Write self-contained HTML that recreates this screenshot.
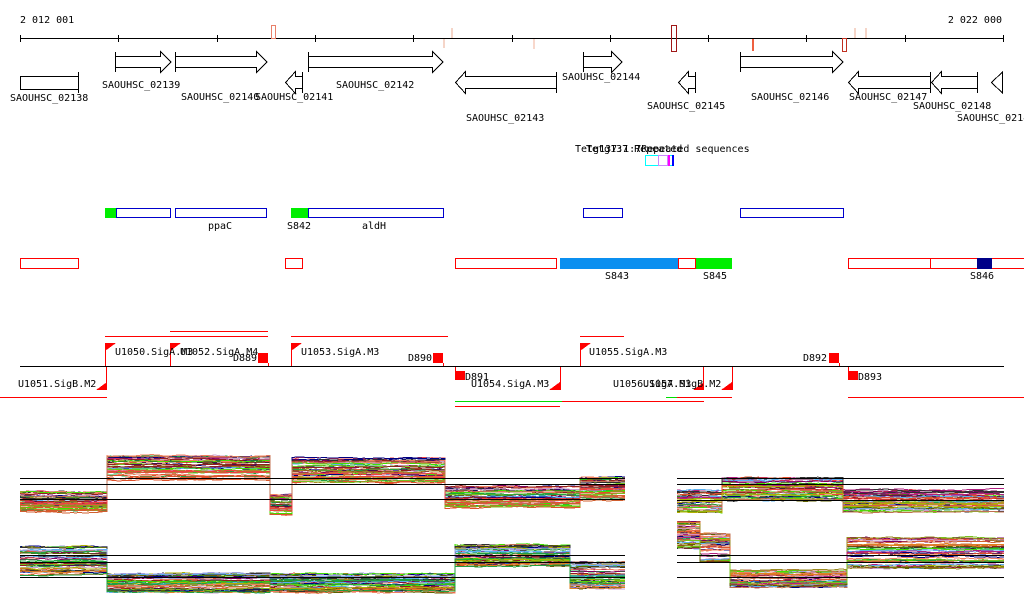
<!DOCTYPE html>
<html><head><meta charset="utf-8"><style>
html,body{margin:0;padding:0;background:#fff;width:1024px;height:611px;overflow:hidden}
svg{display:block}
text{font-family:"DejaVu Sans Mono","Liberation Mono",monospace;font-size:10px;fill:#000}
</style></head><body>
<svg id="s" width="1024" height="611" viewBox="0 0 1024 611" xmlns="http://www.w3.org/2000/svg" shape-rendering="crispEdges">
<text x="20" y="23">2 012 001</text>
<text x="1002" y="23" text-anchor="end">2 022 000</text>
<line x1="20" y1="38.5" x2="1004" y2="38.5" stroke="#000"/>
<g stroke="#000">
<line x1="20.5" y1="35" x2="20.5" y2="42"/><line x1="118.5" y1="35" x2="118.5" y2="42"/><line x1="217.5" y1="35" x2="217.5" y2="42"/><line x1="315.5" y1="35" x2="315.5" y2="42"/><line x1="413.5" y1="35" x2="413.5" y2="42"/><line x1="512.5" y1="35" x2="512.5" y2="42"/><line x1="610.5" y1="35" x2="610.5" y2="42"/><line x1="708.5" y1="35" x2="708.5" y2="42"/><line x1="806.5" y1="35" x2="806.5" y2="42"/><line x1="905.5" y1="35" x2="905.5" y2="42"/><line x1="1003.5" y1="35" x2="1003.5" y2="42"/>
</g>
<rect x="271.5" y="25.5" width="4" height="13" fill="none" stroke="#e8806a"/>
<rect x="443" y="39" width="2" height="9" fill="#f5d5c8"/><rect x="451" y="28" width="2" height="10" fill="#f5d5c8"/>
<rect x="533" y="39" width="2" height="10" fill="#f8d8cc"/>
<rect x="671.5" y="25.5" width="5" height="26" fill="none" stroke="#a01818"/>
<rect x="752" y="39" width="2" height="12" fill="#ee6040"/>
<rect x="842.5" y="38.5" width="4" height="13" fill="none" stroke="#c03020"/>
<rect x="854" y="28" width="2" height="10" fill="#f5d5c8"/><rect x="865" y="28" width="2" height="10" fill="#f5d5c8"/>
<g fill="none" stroke="#000">
<rect x="20.5" y="76.5" width="58" height="13"/><line x1="78.5" y1="72" x2="78.5" y2="93"/>
<path d="M115.5 52v20M115.5 56.5h45v-5l10.5 10.5-10.5 10.5v-5h-45"/>
<path d="M175.5 52v20M175.5 56.5h81v-5l10.5 10.5-10.5 10.5v-5h-81"/>
<path d="M302.5 72v21M302.5 76.5h-7v-5l-10 11 10 11v-5h7"/>
<path d="M308.5 52v20M308.5 56.5h124v-5l10.5 10.5-10.5 10.5v-5h-124"/>
<path d="M556.5 72v21M556.5 76.5h-91v-5l-10 11 10 11v-5h91"/>
<path d="M583.5 52v20M583.5 56.5h28v-5l10.5 10.5-10.5 10.5v-5h-28"/>
<path d="M695.5 72v21M695.5 76.5h-7v-5l-10 11 10 11v-5h7"/>
<path d="M740.5 52v20M740.5 56.5h92v-5l10.5 10.5-10.5 10.5v-5h-92"/>
<path d="M930.5 72v21M930.5 76.5h-72v-5l-10 11 10 11v-5h72"/>
<path d="M977.5 72v21M977.5 76.5h-36v-5l-10 11 10 11v-5h36"/>
<path d="M1002.5 72v21l-11-10.5z"/>
</g>
<text x="10" y="101">SAOUHSC_02138</text>
<text x="102" y="88">SAOUHSC_02139</text>
<text x="181" y="100">SAOUHSC_02140</text>
<text x="255" y="100">SAOUHSC_02141</text>
<text x="336" y="88">SAOUHSC_02142</text>
<text x="466" y="121">SAOUHSC_02143</text>
<text x="562" y="80">SAOUHSC_02144</text>
<text x="647" y="109">SAOUHSC_02145</text>
<text x="751" y="100">SAOUHSC_02146</text>
<text x="849" y="100">SAOUHSC_02147</text>
<text x="913" y="109">SAOUHSC_02148</text>
<text x="957" y="121">SAOUHSC_02149</text>
<text x="575" y="152">Tetg137:1:7Repeated sequences</text>
<text x="586" y="152">Tetg137 Repeated</text>
<rect x="645.5" y="155.5" width="27" height="10" fill="none" stroke="#0ff"/>
<rect x="658.5" y="155.5" width="9" height="10" fill="none" stroke="#c8f"/>
<rect x="668" y="155" width="2" height="11" fill="#f0f"/><rect x="672" y="155" width="2" height="11" fill="#00f"/>
<rect x="105" y="208" width="11" height="10" fill="#0e0"/>
<g fill="none" stroke="#00c">
<rect x="116.5" y="208.5" width="54" height="9"/><rect x="175.5" y="208.5" width="91" height="9"/>
<rect x="308.5" y="208.5" width="135" height="9"/><rect x="583.5" y="208.5" width="39" height="9"/><rect x="740.5" y="208.5" width="103" height="9"/>
</g>
<rect x="291" y="208" width="17" height="10" fill="#0e0"/>
<text x="208" y="229">ppaC</text><text x="287" y="229">S842</text><text x="362" y="229">aldH</text>
<g fill="none" stroke="#f00">
<rect x="20.5" y="258.5" width="58" height="10"/><rect x="285.5" y="258.5" width="17" height="10"/>
<rect x="455.5" y="258.5" width="101" height="10"/><rect x="678.5" y="258.5" width="17" height="10"/>
<rect x="848.5" y="258.5" width="180" height="10"/><line x1="930.5" y1="258" x2="930.5" y2="269"/>
</g>
<rect x="560" y="258" width="118" height="11" fill="#0a8ff0"/>
<rect x="696" y="258" width="36" height="11" fill="#0e0"/>
<rect x="977" y="258" width="15" height="11" fill="#008"/>
<text x="605" y="279">S843</text><text x="703" y="279">S845</text><text x="970" y="279">S846</text>
<g stroke="#f00" fill="none">
<line x1="105" y1="336.5" x2="268" y2="336.5"/><line x1="170" y1="331.5" x2="268" y2="331.5"/>
<line x1="291" y1="336.5" x2="448" y2="336.5"/><line x1="580" y1="336.5" x2="624" y2="336.5"/>
<line x1="0" y1="397.5" x2="107" y2="397.5"/><line x1="848" y1="397.5" x2="1024" y2="397.5"/>
<line x1="562" y1="401.5" x2="704" y2="401.5"/><line x1="455" y1="406.5" x2="560" y2="406.5"/>
<line x1="677" y1="397.5" x2="732" y2="397.5"/>
<line x1="105.5" y1="343" x2="105.5" y2="366"/><line x1="170.5" y1="343" x2="170.5" y2="366"/>
<line x1="291.5" y1="343" x2="291.5" y2="366"/><line x1="580.5" y1="343" x2="580.5" y2="366"/>
<line x1="106.5" y1="366" x2="106.5" y2="390"/><line x1="560.5" y1="366" x2="560.5" y2="390"/>
<line x1="703.5" y1="366" x2="703.5" y2="390"/><line x1="732.5" y1="366" x2="732.5" y2="390"/>
<line x1="268.5" y1="363" x2="268.5" y2="366"/><line x1="443.5" y1="363" x2="443.5" y2="366"/>
<line x1="455.5" y1="366" x2="455.5" y2="372"/><line x1="839.5" y1="363" x2="839.5" y2="366"/><line x1="848.5" y1="366" x2="848.5" y2="372"/>
</g>
<line x1="455" y1="401.5" x2="562" y2="401.5" stroke="#0d0"/><line x1="666" y1="397.5" x2="677" y2="397.5" stroke="#0d0"/>
<line x1="20" y1="366.5" x2="1004" y2="366.5" stroke="#000"/>
<g fill="#f00">
<path d="M105 343h11l-11 8z"/><path d="M170 343h11l-11 8z"/><path d="M291 343h11l-11 8z"/><path d="M580 343h11l-11 8z"/>
<path d="M107 382v8h-11z"/><path d="M560 382v8h-11z"/><path d="M704 382v8h-11z"/><path d="M732 382v8h-11z"/>
<rect x="258" y="353" width="10" height="10"/><rect x="433" y="353" width="10" height="10"/>
<rect x="455" y="371" width="10" height="9"/><rect x="829" y="353" width="10" height="10"/><rect x="848" y="371" width="10" height="9"/>
</g>
<text x="115" y="355">U1050.SigA.M3</text><text x="180" y="355">U1052.SigA.M4</text>
<text x="233" y="361">D889</text><text x="301" y="355">U1053.SigA.M3</text>
<text x="408" y="361">D890</text><text x="465" y="380">D891</text>
<text x="471" y="387">U1054.SigA.M3</text><text x="18" y="387">U1051.SigB.M2</text>
<text x="589" y="355">U1055.SigA.M3</text><text x="803" y="361">D892</text><text x="858" y="380">D893</text>
<text x="613" y="387">U1056.SigA.M3</text><text x="643" y="387">U1057.SigB.M2</text>
<g id="plots"></g>
<g stroke="#000" stroke-width="1">
<line x1="20" y1="478.5" x2="625" y2="478.5"/><line x1="20" y1="484.5" x2="625" y2="484.5"/><line x1="20" y1="499.5" x2="625" y2="499.5"/>
<line x1="20" y1="555.5" x2="625" y2="555.5"/><line x1="20" y1="562.5" x2="625" y2="562.5"/><line x1="20" y1="577.5" x2="625" y2="577.5"/>
<line x1="677" y1="478.5" x2="1004" y2="478.5"/><line x1="677" y1="484.5" x2="1004" y2="484.5"/><line x1="677" y1="500.5" x2="1004" y2="500.5"/>
<line x1="677" y1="555.5" x2="1004" y2="555.5"/><line x1="677" y1="562.5" x2="1004" y2="562.5"/><line x1="677" y1="577.5" x2="1004" y2="577.5"/>
</g>
</svg>
<script>
(function(){
var seed=7;function r(){seed=(seed*16807)%2147483647;return seed/2147483647;}
var cols=["#e0502a","#d06030","#9a8a20","#7ac020","#40e000","#b02080","#800060","#5ab0f0","#a0a0e0","#c07050","#f08060","#606000","#20a040","#e08020","#902020","#000080","#b0b000","#f04040","#c8a0d0","#303030"];
var panels=[
 {segs:[[20,107,492,512],[107,270,456,480],[270,292,495,515],[292,445,458,482],[445,580,487,508],[580,625,478,500]]},
 {segs:[[20,107,547,575],[107,270,574,592],[270,455,574,592],[455,570,545,566],[570,625,562,588]]},
 {segs:[[677,722,490,512],[722,843,478,500],[843,1004,490,512]]},
 {segs:[[677,700,522,548],[700,730,532,562],[730,847,570,588],[847,1004,538,568]]}
];
var g=document.getElementById("plots"),out="";
panels.forEach(function(p){
 for(var t=0;t<45;t++){
  var pts=[],c=cols[Math.floor(r()*cols.length)];
  var f=r();
  p.segs.forEach(function(s){
   var y=s[2]+(s[3]-s[2])*Math.min(1,Math.max(0,f+(r()-0.5)*0.4));
   var yy=y;
   for(var x=s[0];x<=s[1];x+=4){yy+= (r()-0.5)*1.6; yy+= (y-yy)*0.2; pts.push(x+","+yy.toFixed(1));}
   pts.push(s[1]+","+yy.toFixed(1));
  });
  out+='<polyline fill="none" stroke="'+c+'" stroke-width="1" points="'+pts.join(" ")+'"/>';
 }
});
g.innerHTML=out;
})();
</script>
</body></html>
